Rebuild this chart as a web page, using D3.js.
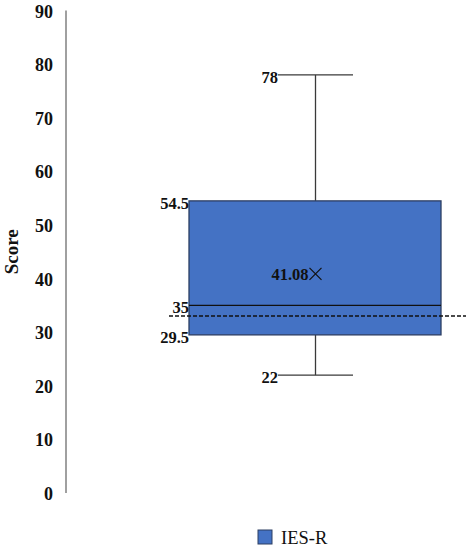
<!DOCTYPE html>
<html><head><meta charset="utf-8">
<script src="https://cdn.jsdelivr.net/npm/d3@7"></script>
<style>body{margin:0;background:#fff}</style>
</head><body>
<svg id="c" width="472" height="550"></svg>
<script>
const seriesName = "IES-R";
const boxStats = {min: 22, q1: 29.5, median: 35, q3: 54.5, max: 78};
const meanValue = 41.08;
const referenceValue = 33;
const yTicks = [0,10,20,30,40,50,60,70,80,90];
const yLabel = "Score";

const svg = d3.select("#c");
const font = "'Liberation Serif','Times New Roman',serif";
const y = d3.scaleLinear().domain([0,90]).range([493, 10.6]);
const x = d3.scaleBand().domain([seriesName]).range([189, 441]).padding(0);
const cx = x(seriesName) + x.bandwidth()/2 + 0.5;
const capHalf = 37.5;

// axis
const axis = d3.axisLeft(y).tickValues(yTicks).tickSize(0).tickPadding(13).tickFormat(d3.format("d"));
const ag = svg.append("g").attr("transform","translate(66,0)").call(axis);
ag.select(".domain").attr("stroke","#a0a0a0").attr("stroke-width",2).attr("d",`M0,${y(90)}V${y(0)}`);
ag.selectAll("text").attr("font-family",font).attr("font-weight","bold").attr("font-size",18).attr("fill","#111").attr("dy","0.36em");

svg.append("text").attr("transform",`translate(18,${y(45)}) rotate(-90)`).attr("text-anchor","middle")
  .attr("font-family",font).attr("font-weight","bold").attr("font-size",19).attr("fill","#111").text(yLabel);

const line = "#3a3a3a";
// whiskers
svg.append("line").attr("x1",cx).attr("x2",cx).attr("y1",y(boxStats.max)).attr("y2",y(boxStats.q3)).attr("stroke",line).attr("stroke-width",1.3);
svg.append("line").attr("x1",cx).attr("x2",cx).attr("y1",y(boxStats.q1)).attr("y2",y(boxStats.min)).attr("stroke",line).attr("stroke-width",1.3);
[boxStats.max, boxStats.min].forEach(v=>{
  svg.append("line").attr("x1",cx-capHalf).attr("x2",cx+capHalf).attr("y1",y(v)).attr("y2",y(v)).attr("stroke",line).attr("stroke-width",1.3);
});
// box
svg.append("rect").attr("x",x(seriesName)).attr("y",y(boxStats.q3)).attr("width",x.bandwidth())
  .attr("height",y(boxStats.q1)-y(boxStats.q3)).attr("fill","#4472C4").attr("stroke","#2c3e63").attr("stroke-width",1.3);
svg.append("line").attr("x1",x(seriesName)).attr("x2",x(seriesName)+x.bandwidth()).attr("y1",y(boxStats.median)).attr("y2",y(boxStats.median)).attr("stroke","#111").attr("stroke-width",1.3);

// reference dashed line
svg.append("line").attr("x1",169).attr("x2",466).attr("y1",y(referenceValue)).attr("y2",y(referenceValue))
  .attr("stroke","#111").attr("stroke-width",1.5).attr("stroke-dasharray","4,2");

// mean marker
const my = y(meanValue) + 1;
const ms = 6;
svg.append("path").attr("d",`M${cx-ms},${my-ms}L${cx+ms},${my+ms}M${cx+ms},${my-ms}L${cx-ms},${my+ms}`).attr("stroke","#111").attr("stroke-width",1.2).attr("fill","none");
svg.append("text").attr("x",cx-7).attr("y",my).attr("dy","0.36em").attr("text-anchor","end")
  .attr("font-family",font).attr("font-weight","bold").attr("font-size",16.5).attr("fill","#111").text(meanValue.toFixed(2));

// value labels
const labels = [
  {v: boxStats.max, xe: cx-capHalf},
  {v: boxStats.q3, xe: x(seriesName)},
  {v: boxStats.median, xe: x(seriesName)},
  {v: boxStats.q1, xe: x(seriesName)},
  {v: boxStats.min, xe: cx-capHalf}
];
labels.forEach(l=>{
  svg.append("text").attr("x",l.xe).attr("y",y(l.v)+2).attr("dy","0.36em").attr("text-anchor","end")
    .attr("font-family",font).attr("font-weight","bold").attr("font-size",16.5).attr("fill","#111").text(String(l.v));
});

// legend
svg.append("rect").attr("x",258).attr("y",530).attr("width",14).attr("height",14).attr("fill","#4472C4").attr("stroke","#2c3e63").attr("stroke-width",1);
svg.append("text").attr("x",281).attr("y",537).attr("dy","0.36em").attr("font-family",font).attr("font-size",18.5).attr("fill","#111").text(seriesName);
</script>
</body></html>
